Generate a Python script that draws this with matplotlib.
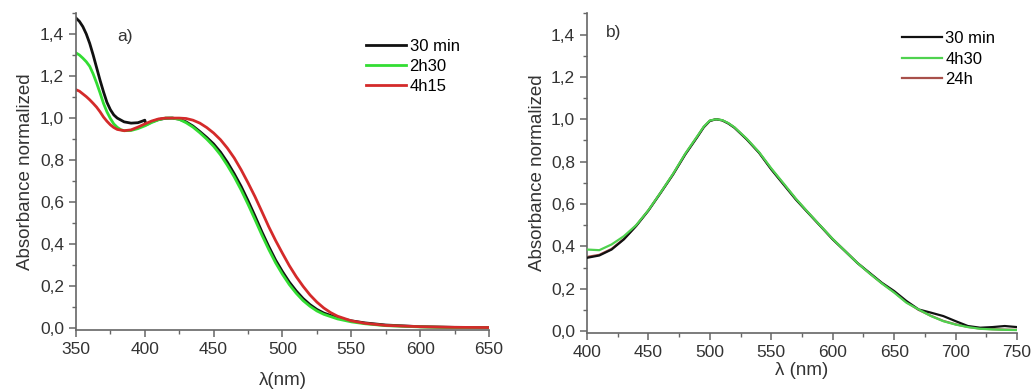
import matplotlib.pyplot as plt
from matplotlib.ticker import MultipleLocator, FuncFormatter

plt.rcParams["font.family"] = ["Liberation Sans", "DejaVu Sans"]

# panel a) wavelengths and normalized absorbance
wl_a_black = [350, 352.5, 355, 357.5, 360, 362.5, 365, 367.5, 370, 372.5, 375, 377.5, 380, 385, 390,
              395, 398, 400, 401, 403, 405, 410, 415, 420, 425, 430, 435, 440, 445, 450, 455, 460, 465,
              470, 475, 480, 485, 490, 495, 500, 505, 510, 515, 520, 525, 530, 540, 550, 560, 575, 600,
              625, 650]
ab_a_black = [1.476, 1.46, 1.435, 1.40, 1.355, 1.30, 1.24, 1.18, 1.125, 1.075, 1.04, 1.015, 1.0, 0.982,
              0.976, 0.978, 0.985, 0.99, 0.968, 0.975, 0.982, 0.993, 0.999, 1.0, 0.995, 0.982, 0.962,
              0.936, 0.908, 0.877, 0.838, 0.79, 0.735, 0.675, 0.607, 0.535, 0.46, 0.39, 0.325, 0.27,
              0.22, 0.178, 0.142, 0.113, 0.09, 0.073, 0.05, 0.036, 0.026, 0.016, 0.008, 0.005, 0.004]

wl_a_green = [350, 352.5, 355, 357.5, 360, 362.5, 365, 367.5, 370, 372.5, 375, 377.5, 380, 382.5, 385,
              390, 395, 400, 405, 410, 415, 420, 425, 430, 435, 440, 445, 450, 455, 460, 465, 470, 475,
              480, 485, 490, 495, 500, 505, 510, 515, 520, 525, 530, 540, 550, 560, 575, 600, 625, 650]
ab_a_green = [1.31, 1.30, 1.285, 1.268, 1.246, 1.21, 1.167, 1.12, 1.07, 1.03, 0.998, 0.972, 0.956, 0.945,
              0.94, 0.941, 0.95, 0.963, 0.979, 0.992, 1.0, 1.0, 0.994, 0.978, 0.957, 0.93, 0.9, 0.866,
              0.825, 0.775, 0.72, 0.658, 0.59, 0.518, 0.445, 0.376, 0.312, 0.257, 0.208, 0.167, 0.132,
              0.105, 0.083, 0.067, 0.045, 0.031, 0.022, 0.013, 0.007, 0.004, 0.003]

wl_a_red = [350, 352.5, 355, 357.5, 360, 362.5, 365, 367.5, 370, 372.5, 375, 377.5, 380, 385, 390, 395,
            400, 405, 410, 415, 420, 425, 430, 435, 440, 445, 450, 455, 460, 465, 470, 475, 480, 485,
            490, 495, 500, 505, 510, 515, 520, 525, 530, 535, 540, 550, 560, 575, 600, 625, 650]
ab_a_red = [1.135, 1.128, 1.115, 1.102, 1.087, 1.07, 1.052, 1.03, 1.005, 0.985, 0.968, 0.955, 0.946,
            0.94, 0.944, 0.957, 0.972, 0.986, 0.996, 1.0, 1.0, 1.0, 0.998, 0.99, 0.976, 0.955, 0.929,
            0.897, 0.857, 0.81, 0.754, 0.692, 0.627, 0.556, 0.484, 0.418, 0.357, 0.298, 0.246, 0.2,
            0.159, 0.125, 0.097, 0.075, 0.058, 0.036, 0.024, 0.014, 0.008, 0.005, 0.004]

# panel b)
wl_b = [400, 410, 420, 430, 440, 450, 460, 470, 480, 490, 495, 500, 505, 510, 515, 520, 530, 540, 550,
        560, 570, 580, 590, 600, 610, 620, 630, 640, 650, 660, 670, 680, 690, 700, 710, 720, 730, 740,
        750]
ab_b_black = [0.346, 0.357, 0.385, 0.433, 0.496, 0.569, 0.653, 0.739, 0.834, 0.918, 0.962, 0.992, 1.0,
              0.995, 0.98, 0.96, 0.905, 0.842, 0.763, 0.692, 0.621, 0.558, 0.496, 0.433, 0.378, 0.322,
              0.275, 0.228, 0.189, 0.142, 0.102, 0.087, 0.071, 0.047, 0.024, 0.016, 0.019, 0.024, 0.019]
ab_b_green = [0.385, 0.382, 0.409, 0.448, 0.5, 0.571, 0.655, 0.742, 0.838, 0.922, 0.965, 0.994, 1.0,
              0.996, 0.982, 0.962, 0.908, 0.845, 0.768, 0.697, 0.625, 0.56, 0.497, 0.435, 0.378, 0.322,
              0.272, 0.225, 0.182, 0.134, 0.102, 0.071, 0.047, 0.031, 0.019, 0.011, 0.008, 0.006, 0.005]
ab_b_red = [0.35, 0.36, 0.388, 0.435, 0.498, 0.57, 0.654, 0.74, 0.836, 0.92, 0.963, 0.993, 1.0, 0.995,
            0.981, 0.961, 0.906, 0.843, 0.765, 0.694, 0.623, 0.559, 0.496, 0.434, 0.378, 0.322, 0.273,
            0.226, 0.184, 0.137, 0.1, 0.072, 0.048, 0.032, 0.02, 0.012, 0.009, 0.007, 0.006]

comma = FuncFormatter(lambda v, p: ("%.1f" % v).replace(".", ","))


def style(ax, xlim, xlabel):
    ax.set_xlim(*xlim)
    ax.set_ylim(-0.008, 1.5)
    ax.spines["top"].set_visible(False)
    ax.spines["right"].set_visible(False)
    for s in ("left", "bottom"):
        ax.spines[s].set_color("#666666")
        ax.spines[s].set_linewidth(1.2)
    ax.xaxis.set_major_locator(MultipleLocator(50))
    ax.xaxis.set_minor_locator(MultipleLocator(25))
    ax.yaxis.set_major_locator(MultipleLocator(0.2))
    ax.yaxis.set_minor_locator(MultipleLocator(0.1))
    ax.yaxis.set_major_formatter(comma)
    ax.tick_params(which="major", length=5, width=1.1, color="#666666", labelsize=12.5,
                   labelcolor="#333333")
    ax.tick_params(which="minor", length=3, width=1.0, color="#666666")
    ax.set_ylabel("Absorbance normalized", fontsize=13.5, color="#333333", labelpad=4)
    ax.set_xlabel(xlabel, fontsize=13.5, color="#333333")


fig = plt.figure(figsize=(10.32, 3.92), dpi=100)
ax1 = fig.add_axes([0.0736, 0.158, 0.4002, 0.809])
ax2 = fig.add_axes([0.5688, 0.151, 0.4167, 0.815])

ax1.plot(wl_a_black, ab_a_black, color="#111111", lw=2.0, label="30 min")
ax1.plot(wl_a_green, ab_a_green, color="#33dd33", lw=2.0, label="2h30")
ax1.plot(wl_a_red, ab_a_red, color="#d42a2a", lw=2.0, label="4h15")
style(ax1, (350, 650), "λ(nm)")
ax1.xaxis.labelpad = 11
ax1.text(0.1, 0.91, "a)", transform=ax1.transAxes, fontsize=12.5, color="#333333")
ax1.legend(loc="upper right", bbox_to_anchor=(0.945, 0.94), frameon=False, fontsize=12,
           handlelength=2.4, handletextpad=0.2, labelspacing=0.32, borderaxespad=0)

ax2.plot(wl_b, ab_b_red, color="#a8504a", lw=1.6, label="24h", zorder=2)
ax2.plot(wl_b, ab_b_black, color="#111111", lw=1.6, label="30 min", zorder=3)
ax2.plot(wl_b, ab_b_green, color="#4fd24f", lw=1.6, label="4h30", zorder=4)
style(ax2, (400, 750), "λ (nm)")
ax2.xaxis.labelpad = 2
ax2.text(0.045, 0.925, "b)", transform=ax2.transAxes, fontsize=12.5, color="#333333")
h, l = ax2.get_legend_handles_labels()
ax2.legend([h[1], h[2], h[0]], [l[1], l[2], l[0]], loc="upper right", bbox_to_anchor=(0.965, 0.965),
           frameon=False, fontsize=12, handlelength=2.4, handletextpad=0.2, labelspacing=0.32,
           borderaxespad=0)

fig.savefig("out.png", dpi=100)
